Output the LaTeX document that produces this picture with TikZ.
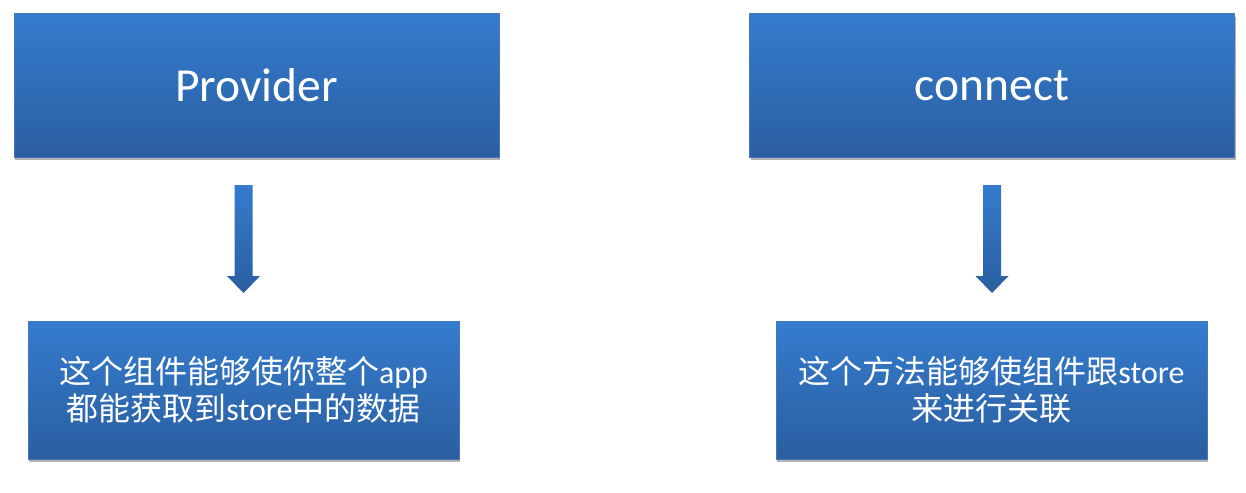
\documentclass[tikz,border=0pt]{standalone}
\usepackage{fontspec}
\setmainfont{Carlito}
\newfontfamily\cjk{Noto Sans CJK SC}
\usetikzlibrary{shadows,calc}
\definecolor{boxtop}{RGB}{53,124,206}
\definecolor{boxbot}{RGB}{42,94,160}
\definecolor{boxedge}{RGB}{70,120,185}
\tikzset{
  bluebox/.style={rectangle, draw=boxedge, line width=1pt, top color=boxtop, bottom color=boxbot,
    text=white, align=center, inner sep=0pt,
    drop shadow={shadow xshift=1pt, shadow yshift=-3pt, fill=black, opacity=0.3}},
  titlebox/.style={bluebox, minimum width=485pt, minimum height=143pt, font=\fontsize{47.5}{57}\selectfont},
  textbox/.style={bluebox, minimum width=431pt, minimum height=138pt, font=\fontsize{32}{37}\selectfont},
  blockarrow/.style={top color=boxtop, bottom color=boxbot, draw=none}
}
\newcommand{\blockarr}[2]{%
  \shade[blockarrow] ($(#1)+(-9,0)$) -- ($(#1)+(9,0)$) -- ($(#2)+(9,-17)$) -- ($(#2)+(16.5,-17)$)
    -- (#2) -- ($(#2)+(-16.5,-17)$) -- ($(#2)+(-9,-17)$) -- cycle;}
\begin{document}
\begin{tikzpicture}[x=1pt,y=-1pt]
\useasboundingbox[fill=white] (0,0) rectangle (1246,492);
\node[titlebox] (prov) at (256.5,85.5) {Provider};
\node[titlebox] (conn) at (992,85.5) {connect};
\node[textbox] (provd) at (243.5,390) {{\cjk 这个组件能够使你整个}app\\{\cjk 都能获取到}store{\cjk 中的数据}};
\node[textbox] (connd) at (991.5,390) {{\cjk 这个方法能够使组件跟}store\\{\cjk 来进行关联}};
\coordinate (aLs) at (243.5,185);
\coordinate (aLe) at (243.5,293);
\coordinate (aRs) at (992,185);
\coordinate (aRe) at (992,293);
\blockarr{aLs}{aLe}
\blockarr{aRs}{aRe}
\end{tikzpicture}
\end{document}
